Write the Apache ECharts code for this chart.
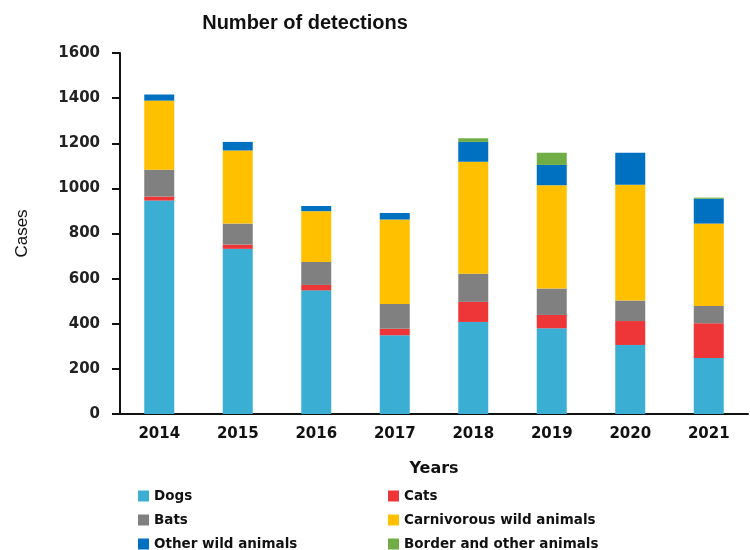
<!DOCTYPE html>
<html>
<head>
<meta charset="utf-8">
<script src="https://cdn.jsdelivr.net/npm/echarts@6/dist/echarts.min.js"></script>
<style>html,body{margin:0;padding:0;background:#fff}#c{width:750px;height:550px}</style>
</head>
<body>
<div id="c"></div>
<script>
var years = ['2014','2015','2016','2017','2018','2019','2020','2021'];
var dogs = [946,732,548,349,408,380,306,248];
var cats = [18,19,24,29,89,59,106,154];
var bats = [119,93,102,110,125,117,91,77];
var carnivorous = [306,324,225,374,496,458,513,365];
var otherWild = [27,38,23,29,88,90,142,110];
var border = [0,0,0,0,16,54,0,5];
var yTicks = [0,200,400,600,800,1000,1200,1400,1600];

var names = ['Dogs','Cats','Bats','Carnivorous wild animals','Other wild animals','Border and other animals'];
var colors = ['#3BAED4','#EE3537','#808080','#FFC000','#0070C0','#70AD47'];
var datas = [dogs,cats,bats,carnivorous,otherWild,border];

var chart = echarts.init(document.getElementById('c'));
var series = names.map(function(n,i){
  return {name:n,type:'bar',stack:'all',data:datas[i],barWidth:30,
    itemStyle:{color:colors[i]}};
});
var legendText = {fontFamily:'DejaVu Sans',fontWeight:'bold',fontSize:13.5,color:'#111'};
var legendCols = [138,388,138,388,138,388];
var legendRows = [489,489,513,513,537,537];
var legends = names.map(function(n,i){
  return {data:[n],left:legendCols[i],top:legendRows[i],itemWidth:11,itemHeight:11,icon:'rect',
    padding:0,itemGap:0,textStyle:legendText};
});
chart.setOption({
  animation:false,
  color:colors,
  title:{text:'Number of detections',left:300,top:8,textAlign:'center',
    textStyle:{fontFamily:'Liberation Sans',fontWeight:'bold',fontSize:20,color:'#111'}},
  grid:{left:120,right:2,top:53,bottom:136,containLabel:false},
  legend:legends,
  xAxis:{type:'category',data:years,name:'Years',nameLocation:'middle',nameGap:47,
    nameTextStyle:{fontFamily:'DejaVu Sans',fontWeight:'bold',fontSize:16,color:'#111'},
    axisLine:{lineStyle:{color:'#111',width:2}},
    axisTick:{alignWithLabel:true,length:4,lineStyle:{color:'#111',width:2}},
    axisLabel:{fontFamily:'DejaVu Sans',fontWeight:'bold',fontSize:15,color:'#111',margin:13}},
  yAxis:{type:'value',min:0,max:1600,interval:200,name:'Cases',nameLocation:'middle',nameGap:89,
    nameTextStyle:{fontFamily:'Liberation Sans',fontSize:17,color:'#111'},
    axisLine:{show:true,lineStyle:{color:'#111',width:2}},
    axisTick:{show:true,length:8,lineStyle:{color:'#111',width:2}},
    splitLine:{show:false},
    axisLabel:{fontFamily:'DejaVu Sans',fontWeight:'bold',fontSize:15,color:'#222',margin:20,
      formatter:function(v){return yTicks.indexOf(v)>=0?String(v):'';}}},
  series:series
});
</script>
</body>
</html>
